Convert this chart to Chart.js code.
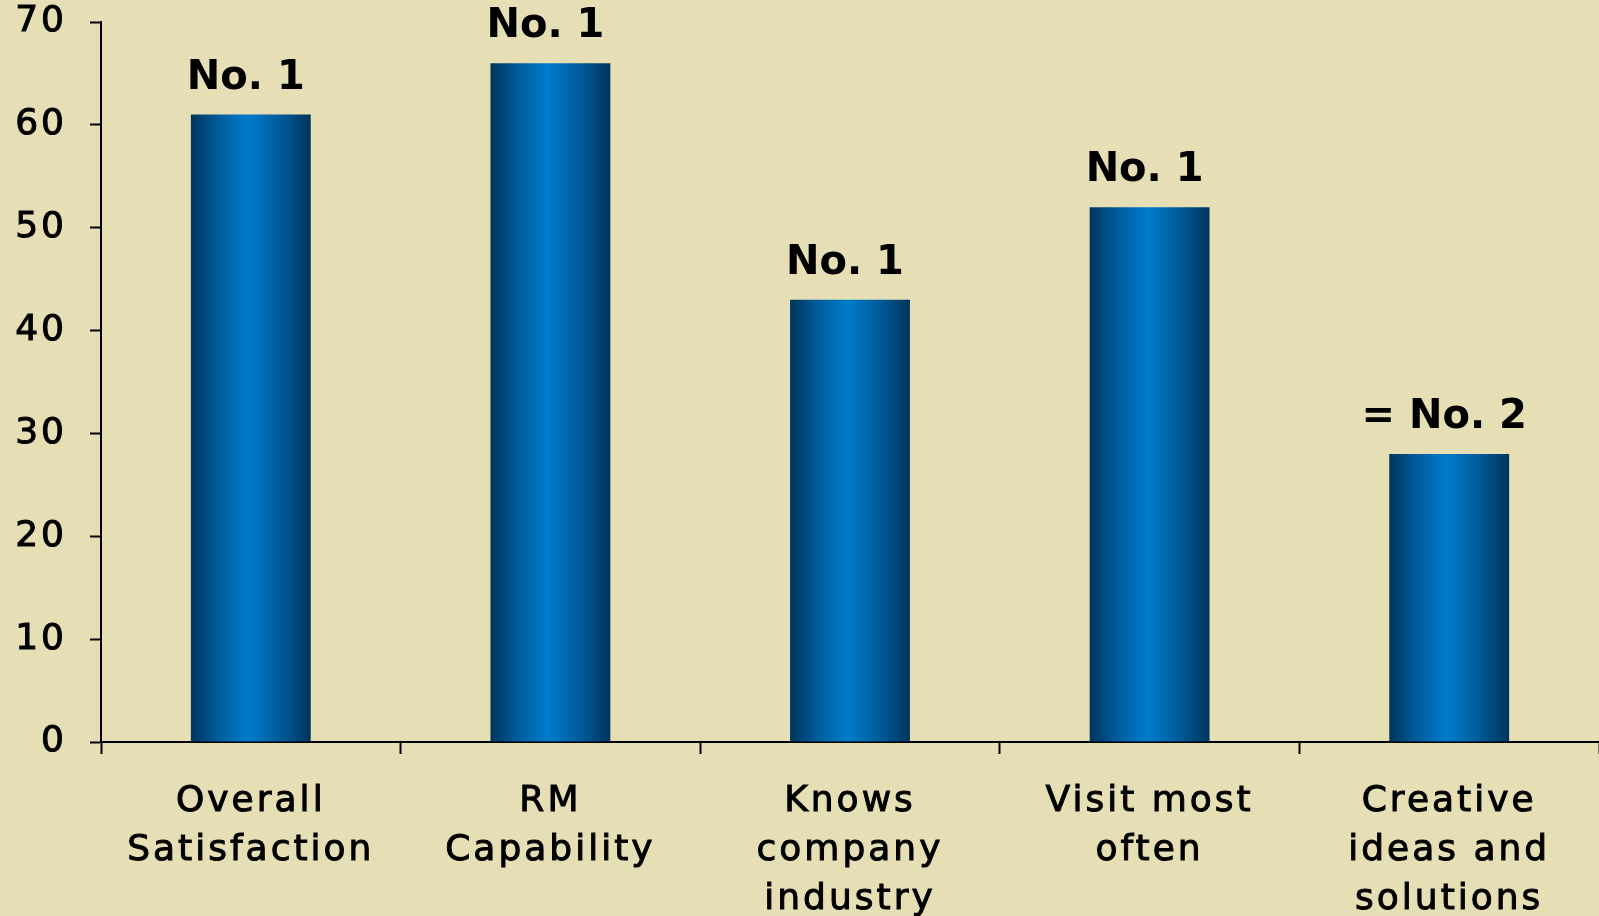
<!DOCTYPE html>
<html>
<head>
<meta charset="utf-8">
<script src="https://cdn.jsdelivr.net/npm/chart.js@4.4.1/dist/chart.umd.min.js"></script>
<style>
    html, body { margin: 0; padding: 0; background: #e6dfb6; }
    #wrap { width: 1599px; height: 916px; }
</style>
</head>
<body>
<div id="wrap"><canvas id="rankChart"></canvas></div>
<script>
// categories (multi-line labels)
const categories = [
    ["Overall", "Satisfaction"],
    ["RM", "Capability"],
    ["Knows", "company", "industry"],
    ["Visit most", "often"],
    ["Creative", "ideas and", "solutions"]
];
const values = [61, 66, 43, 52, 28];
const rankLabels = ["No. 1", "No. 1", "No. 1", "No. 1", "= No. 2"];
const yTicks = [0, 10, 20, 30, 40, 50, 60, 70];

const BAR_PCT = 0.4;
const FONT = "'DejaVu Sans', Verdana, sans-serif";

// horizontal gradient for each bar: dark edges, bright middle
function barGradient(context) {
    const chart = context.chart;
    const xScale = chart.scales.x;
    if (!xScale || !chart.chartArea) return "#0070b8";
    const cx = xScale.getPixelForValue(context.dataIndex);
    const w = (xScale.width / categories.length) * BAR_PCT;
    const g = chart.ctx.createLinearGradient(cx - w / 2, 0, cx + w / 2, 0);
    g.addColorStop(0, "#00345c");
    g.addColorStop(0.22, "#005b9a");
    g.addColorStop(0.48, "#007ccb");
    g.addColorStop(0.75, "#005b9a");
    g.addColorStop(1, "#00345c");
    return g;
}

// wider tracking, like the original Verdana text
const spacingPlugin = {
    id: "spacingPlugin",
    beforeLayout(chart) { chart.ctx.letterSpacing = "3px"; },
    beforeDraw(chart) { chart.ctx.letterSpacing = "3px"; }
};

// text above bars
const rankPlugin = {
    id: "rankPlugin",
    afterDatasetsDraw(chart) {
        const ctx = chart.ctx;
        const meta = chart.getDatasetMeta(0);
        ctx.save();
        ctx.letterSpacing = "0px";
        ctx.font = "bold 40px " + FONT;
        ctx.fillStyle = "#000";
        ctx.textAlign = "center";
        ctx.textBaseline = "alphabetic";
        meta.data.forEach((bar, i) => {
            ctx.fillText(rankLabels[i], bar.x - 5, bar.y - 26);
        });
        ctx.restore();
    }
};

Chart.defaults.font.family = FONT;
Chart.defaults.color = "#000";

new Chart(document.getElementById("rankChart"), {
    type: "bar",
    data: {
        labels: categories,
        datasets: [{
            data: values,
            backgroundColor: barGradient,
            borderWidth: 0,
            barPercentage: BAR_PCT,
            categoryPercentage: 1
        }]
    },
    options: {
        responsive: true,
        maintainAspectRatio: false,
        animation: false,
        layout: { padding: 0 },
        plugins: {
            legend: { display: false },
            tooltip: { enabled: false }
        },
        scales: {
            x: {
                grid: {
                    drawOnChartArea: false,
                    drawTicks: true,
                    tickLength: 12,
                    tickWidth: 2,
                    color: "#000",
                    offset: true
                },
                border: { color: "#000", width: 2 },
                ticks: {
                    font: { size: 36, lineHeight: 1.36 },
                    padding: 23,
                    maxRotation: 0,
                    autoSkip: false,
                    textStrokeColor: "#000",
                    textStrokeWidth: 1
                },
                afterFit: scale => { scale.height = 174; }
            },
            y: {
                min: 0,
                max: 70,
                afterBuildTicks: scale => { scale.ticks = yTicks.map(v => ({ value: v })); },
                grid: {
                    drawOnChartArea: false,
                    drawTicks: true,
                    tickLength: 11,
                    tickWidth: 2,
                    color: "#000"
                },
                border: { color: "#000", width: 2 },
                ticks: {
                    font: { size: 36 },
                    padding: 23,
                    textStrokeColor: "#000",
                    textStrokeWidth: 1
                },
                afterFit: scale => {
                    scale.width = 101;
                    scale.paddingTop = 22;
                    scale.paddingBottom = 0;
                }
            }
        }
    },
    plugins: [spacingPlugin, rankPlugin]
});
</script>
</body>
</html>
